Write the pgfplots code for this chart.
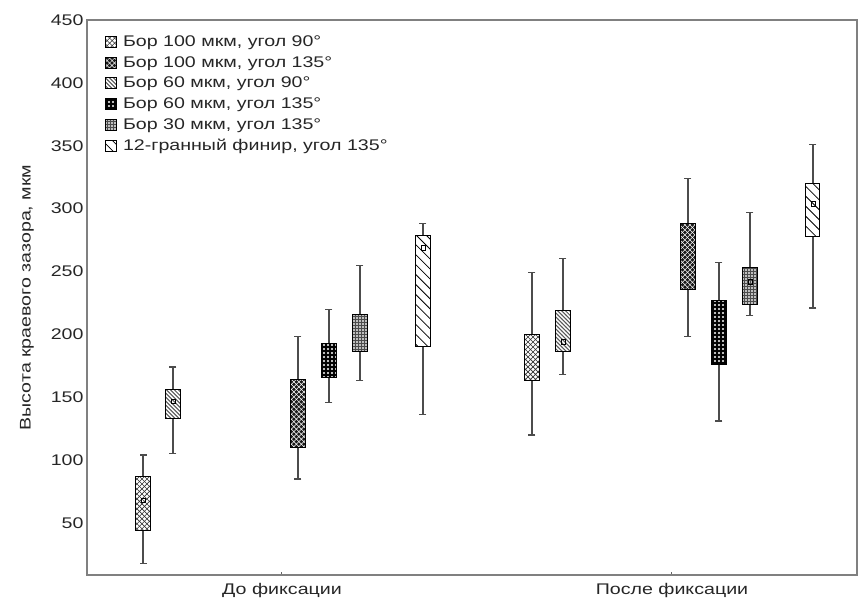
\documentclass[border=0pt]{standalone}
\usepackage{fontspec}
\setmainfont{Liberation Sans}[FakeStretch=1.27]
\usepackage{pgfplots}
\pgfplotsset{compat=1.18}
\usetikzlibrary{patterns}
\pgfdeclarepatternformonly{xhA}{\pgfqpoint{-1pt}{-1pt}}{\pgfqpoint{6pt}{6pt}}{\pgfqpoint{5pt}{5pt}}{%
 \pgfsetlinewidth{0.6pt}\pgfpathmoveto{\pgfqpoint{-0.1pt}{-0.1pt}}\pgfpathlineto{\pgfqpoint{5.1pt}{5.1pt}}%
 \pgfpathmoveto{\pgfqpoint{-0.1pt}{5.1pt}}\pgfpathlineto{\pgfqpoint{5.1pt}{-0.1pt}}\pgfusepath{stroke}}
\pgfdeclarepatternformonly{xhB}{\pgfqpoint{-1pt}{-1pt}}{\pgfqpoint{6pt}{6pt}}{\pgfqpoint{5pt}{5pt}}{%
 \pgfsetlinewidth{0.5pt}\pgfpathmoveto{\pgfqpoint{-0.1pt}{-0.1pt}}\pgfpathlineto{\pgfqpoint{5.1pt}{5.1pt}}%
 \pgfpathmoveto{\pgfqpoint{-0.1pt}{5.1pt}}\pgfpathlineto{\pgfqpoint{5.1pt}{-0.1pt}}\pgfusepath{stroke}}
\pgfdeclarepatternformonly{nwC}{\pgfqpoint{-1pt}{-1pt}}{\pgfqpoint{5pt}{5pt}}{\pgfqpoint{4pt}{4pt}}{%
 \pgfsetlinewidth{1pt}\pgfpathmoveto{\pgfqpoint{-0.1pt}{4.1pt}}\pgfpathlineto{\pgfqpoint{4.1pt}{-0.1pt}}\pgfusepath{stroke}}
\pgfdeclarepatternformonly{nwF}{\pgfqpoint{-1pt}{-1pt}}{\pgfqpoint{11pt}{11pt}}{\pgfqpoint{10pt}{10pt}}{%
 \pgfsetlinewidth{0.8pt}\pgfpathmoveto{\pgfqpoint{-0.1pt}{10.1pt}}\pgfpathlineto{\pgfqpoint{10.1pt}{-0.1pt}}\pgfusepath{stroke}}
\pgfdeclarepatternformonly{dtD}{\pgfqpoint{0pt}{0pt}}{\pgfqpoint{4pt}{4pt}}{\pgfqpoint{4pt}{4pt}}{%
 \pgfpathcircle{\pgfqpoint{2pt}{2pt}}{1.1pt}\pgfusepath{fill}}
\pgfdeclarepatternformonly{grE}{\pgfqpoint{-0.5pt}{-0.5pt}}{\pgfqpoint{3.5pt}{3.5pt}}{\pgfqpoint{3pt}{3pt}}{%
 \pgfsetlinewidth{0.7pt}\pgfpathmoveto{\pgfqpoint{0pt}{-0.5pt}}\pgfpathlineto{\pgfqpoint{0pt}{3.5pt}}%
 \pgfpathmoveto{\pgfqpoint{-0.5pt}{0pt}}\pgfpathlineto{\pgfqpoint{3.5pt}{0pt}}\pgfusepath{stroke}}
\tikzset{
 sA/.style={draw=black, line width=1bp, preaction={fill=white}, pattern=xhA, pattern color=black!80},
 sB/.style={draw=black, line width=1bp, preaction={fill=black!90}, pattern=xhB, pattern color=white},
 sC/.style={draw=black, line width=1bp, preaction={fill=white}, pattern=nwC, pattern color=black!65},
 sD/.style={draw=black, line width=1bp, preaction={fill=black}, pattern=dtD, pattern color=white},
 sE/.style={draw=black, line width=1bp, preaction={fill=black!25}, pattern=grE, pattern color=black!70},
 sF/.style={draw=black, line width=1bp, preaction={fill=white}, pattern=nwF, pattern color=black},
 whisk/.style={draw=black!70, line width=1.2bp, mark=-, mark size=3.5bp, mark options={solid, draw=black!70}},
}
% #1 style, #2 position, #3 lower whisker, #4 lower quartile, #5 median, #6 upper quartile, #7 upper whisker
\newcommand{\bx}[7]{%
 \pgfmathsetmacro{\xl}{#2-0.018}\pgfmathsetmacro{\xr}{#2+0.018}%
 \addplot[whisk, forget plot] coordinates {(#2,#3) (#2,#7)};
 \addplot[#1, forget plot] coordinates {(\xl,#4) (\xr,#4) (\xr,#6) (\xl,#6)} -- cycle;
}
\newcommand{\legimg}[1]{\addlegendimage{legend image code/.code={\draw[#1, line width=0.8bp] (0bp,-5.5bp) rectangle (11bp,5.5bp);}}}
\newcommand{\fnt}{\fontsize{15.5}{17}\selectfont}
\begin{document}
\begin{tikzpicture}
\path[use as bounding box] (-87bp,-31bp) rectangle (772bp,575bp);
\begin{axis}[
 at={(0,0)}, anchor=south west, scale only axis, width=770bp, height=555bp,
 xmin=0.5, xmax=2.4744, ymin=8.6, ymax=450,
 xtick={1,2}, xticklabels={До фиксации, После фиксации},
 ytick={50,100,...,450},
 axis line style={draw=black!50, line width=1.5bp},
 y tick style={draw=none}, x tick style={draw=black!60, line width=1bp},
 major tick length=3bp, tick align=inside, xtick pos=bottom,
 xticklabel style={yshift=-5bp},
 ylabel={Высота краевого зазора, мкм},
 ylabel shift=10bp,
 tick label style={font=\fnt, text=black!85},
 label style={font=\fnt, text=black!85},
 /pgf/number format/assume math mode=true,
 legend style={at={(0.0234,0.976)}, anchor=north west, draw=none, fill=none, font=\fnt, inner sep=0pt, row sep=4.5bp, column sep=4bp, text=black!85},
 legend cell align=left,
 clip=false,
]
\legimg{sA}\legimg{sB}\legimg{sC}\legimg{sD}\legimg{sE}\legimg{sF}
% До фиксации
\bx{sA}{0.6436}{18}{44}{68}{87}{104}
\bx{sC}{0.7205}{105}{133}{147}{156}{174}
\bx{sB}{1.041}{85}{110}{138}{164}{198}
\bx{sD}{1.1205}{146}{166}{180}{193}{220}
\bx{sE}{1.2}{163}{186}{203}{216}{255}
\bx{sF}{1.3615}{136}{190}{269}{279}{288}
% После фиксации
\bx{sA}{1.641}{120}{163}{183}{200}{249}
\bx{sC}{1.7205}{168}{186}{194}{219}{260}
\bx{sB}{2.041}{198}{236}{262}{288}{324}
\bx{sD}{2.1205}{131}{176}{203}{227}{257}
\bx{sE}{2.2}{215}{224}{242}{253}{297}
\bx{sF}{2.3615}{221}{278}{304}{320}{351}
\addplot[only marks, mark=square, mark size=2.2bp, black, forget plot] coordinates {
 (0.6436,68) (0.7205,147) (1.3615,269) (1.7205,194) (2.2,242) (2.3615,304)};
\legend{Бор 100 мкм{,} угол 90°, Бор 100 мкм{,} угол 135°, Бор 60 мкм{,} угол 90°, Бор 60 мкм{,} угол 135°, Бор 30 мкм{,} угол 135°, 12-гранный финир{,} угол 135°}
\end{axis}
\end{tikzpicture}
\end{document}
